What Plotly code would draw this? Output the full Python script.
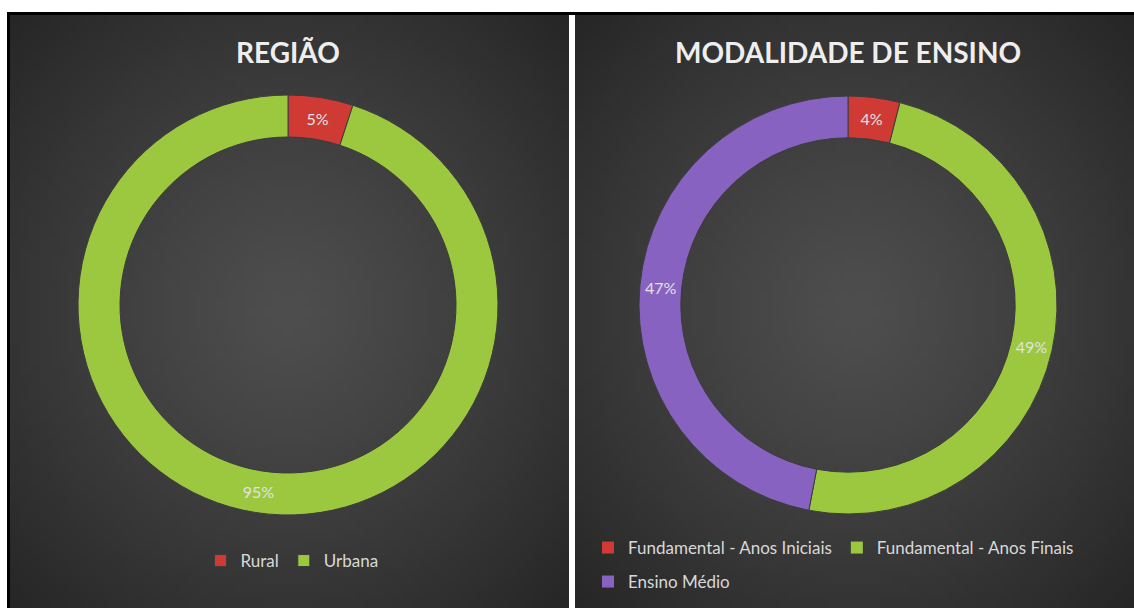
import base64, struct, zlib
import plotly.graph_objects as go

# ---- data ----
regiao_labels = ["Rural", "Urbana"]
regiao_values = [5, 95]
modal_labels = ["Fundamental - Anos Iniciais", "Fundamental - Anos Finais", "Ensino Médio"]
modal_values = [4, 49, 47]

RED = "#CF3A34"
GREEN = "#9BC83F"
PURPLE = "#8762C0"

W, H = 1134, 608


def make_png(w, h, func):
    raw = b""
    for j in range(h):
        row = b"\x00"
        for i in range(w):
            v = func(i, j)
            row += bytes((v, v, v))
        raw += row

    def chunk(t, d):
        c = struct.pack(">I", len(d)) + t + d
        return c + struct.pack(">I", zlib.crc32(t + d) & 0xFFFFFFFF)

    data = b"\x89PNG\r\n\x1a\n"
    data += chunk(b"IHDR", struct.pack(">IIBBBBB", w, h, 8, 2, 0, 0, 0))
    data += chunk(b"IDAT", zlib.compress(raw, 9))
    data += chunk(b"IEND", b"")
    return "data:image/png;base64," + base64.b64encode(data).decode()


def grad(i, j, w=80, h=84):
    dx = (i - (w - 1) / 2) / (w / 2)
    dy = (j - (h - 1) * 0.5) / (h / 2)
    r = min(1.4, (dx * dx + dy * dy) ** 0.5)
    return int(round(78 - 40 * (r / 1.4) ** 1.2))


bg = make_png(80, 84, grad)


def px(x):
    return x / W


def py(y):
    return 1 - y / H


LBL_FONT = dict(family="Lato", size=16, color="#E2E2E2")
LEG_FONT = dict(family="Lato", size=17, color="#D8D8D8")
TTL_FONT = dict(family="Lato", size=28, color="#EEEEEE")

fig = go.Figure()

# left donut
fig.add_trace(go.Pie(
    labels=regiao_labels, values=regiao_values, hole=0.8, sort=False,
    direction="clockwise", rotation=0,
    marker=dict(colors=[RED, GREEN], line=dict(color="#3c3c3c", width=1)),
    texttemplate="%{value}%", textposition="inside",
    insidetextorientation="horizontal", textfont=LBL_FONT,
    domain=dict(x=[px(78), px(498)], y=[py(515), py(95)]),
    legend="legend", hoverinfo="label+percent",
))

# legend carriers for the right donut (hidden under its ring)
rd_in = dict(x=[px(648), px(1048)], y=[py(505), py(105)])
fig.add_trace(go.Pie(
    labels=modal_labels[:2], values=modal_values[:2], hole=0.9, sort=False,
    marker=dict(colors=[RED, GREEN]), textinfo="none", hoverinfo="skip",
    domain=rd_in, legend="legend2",
))
fig.add_trace(go.Pie(
    labels=modal_labels[2:], values=modal_values[2:], hole=0.9, sort=False,
    marker=dict(colors=[PURPLE]), textinfo="none", hoverinfo="skip",
    domain=rd_in, legend="legend3",
))

# right donut
fig.add_trace(go.Pie(
    labels=modal_labels, values=modal_values, hole=0.8, sort=False,
    direction="clockwise", rotation=0,
    marker=dict(colors=[RED, GREEN, PURPLE], line=dict(color="#3c3c3c", width=1)),
    texttemplate="%{value}%", textposition="inside",
    insidetextorientation="horizontal", textfont=LBL_FONT,
    domain=dict(x=[px(639), px(1057)], y=[py(514), py(96)]),
    showlegend=False, hoverinfo="label+percent",
))

fig.update_layout(
    width=W, height=H,
    margin=dict(l=0, r=0, t=0, b=0),
    paper_bgcolor="white",
    plot_bgcolor="white",
    images=[
        dict(source=bg, xref="paper", yref="paper", x=px(8), y=py(14),
             sizex=px(569) - px(8), sizey=py(14) - py(608),
             sizing="stretch", layer="below", xanchor="left", yanchor="top"),
        dict(source=bg, xref="paper", yref="paper", x=px(575), y=py(14),
             sizex=px(1134) - px(575), sizey=py(14) - py(608),
             sizing="stretch", layer="below", xanchor="left", yanchor="top"),
    ],
    shapes=[
        dict(type="rect", xref="paper", yref="paper", x0=px(8.5), x1=px(1136),
             y0=py(610), y1=py(13.5), line=dict(color="black", width=3),
             fillcolor="rgba(0,0,0,0)", layer="above"),
        dict(type="line", xref="paper", yref="paper", x0=px(572), x1=px(572),
             y0=py(608), y1=py(15), line=dict(color="white", width=4),
             layer="above"),
    ],
    annotations=[
        dict(text="<b>REGIÃO</b>", x=px(288), y=py(52), xref="paper", yref="paper",
             showarrow=False, xanchor="center", yanchor="middle", font=TTL_FONT),
        dict(text="<b>MODALIDADE DE ENSINO</b>", x=px(848), y=py(52), xref="paper",
             yref="paper", showarrow=False, xanchor="center", yanchor="middle",
             font=TTL_FONT),
    ],
    legend=dict(orientation="h", x=px(292), y=py(561), xanchor="center",
                yanchor="middle", bgcolor="rgba(0,0,0,0)", itemwidth=30,
                font=LEG_FONT),
    legend2=dict(orientation="h", x=px(588), y=py(548), xanchor="left",
                 yanchor="middle", bgcolor="rgba(0,0,0,0)", itemwidth=30,
                 font=LEG_FONT),
    legend3=dict(orientation="h", x=px(588), y=py(582), xanchor="left",
                 yanchor="middle", bgcolor="rgba(0,0,0,0)", itemwidth=30,
                 font=LEG_FONT),
)

fig.write_html("out.html", config={"displayModeBar": False},
               post_script="document.body.style.margin='0';")
